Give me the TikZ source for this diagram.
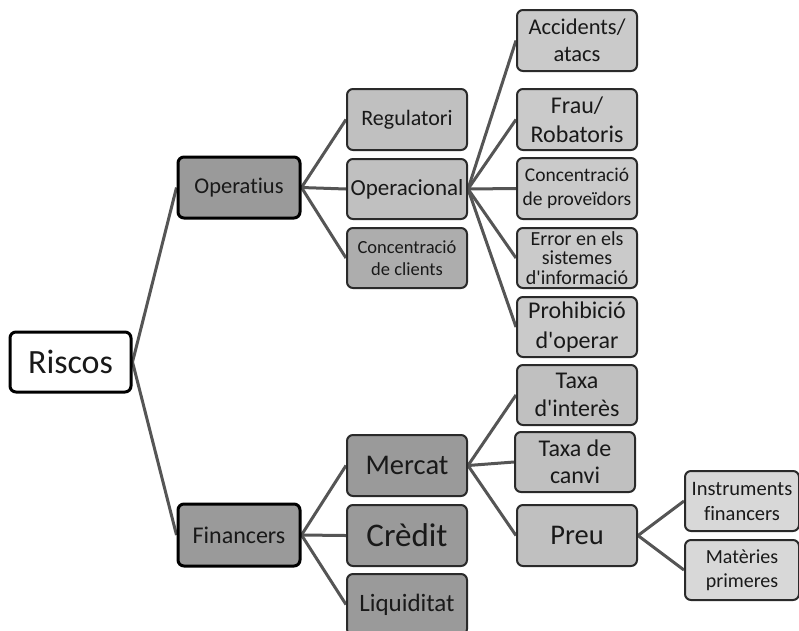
\documentclass[tikz,border=0pt]{standalone}
\usepackage{fontspec}
\setmainfont{Carlito}[Ligatures={NoCommon}]
\usetikzlibrary{backgrounds}
\newdimen\fbskip
\newcommand{\fsz}[1]{\fbskip=#1pt \fbskip=1.22\fbskip \fontsize{#1}{\fbskip}\selectfont}
\newcommand{\ap}{\textquotesingle}
\definecolor{lvA}{HTML}{9A9A9A}
\definecolor{lvB}{HTML}{C0C0C0}
\definecolor{lvBd}{HTML}{ADADAD}
\definecolor{lvC}{HTML}{CACACA}
\definecolor{lvD}{HTML}{D8D8D8}
\definecolor{edge}{HTML}{555555}
\definecolor{bord}{HTML}{2A2A2A}
\begin{document}
\begin{tikzpicture}[x=1pt,y=1pt,
  box/.style={draw=bord, line width=2pt, rounded corners=6pt, inner sep=0pt, align=center, text=black!90},
  topbox/.style={box, draw=black, line width=3pt},
  conn/.style={draw=edge, line width=3pt}]
\useasboundingbox (0,0) rectangle (799,-630);
\clip (0,0) rectangle (799,-630);
\node[topbox, fill=white, minimum width=121pt, minimum height=60pt, font=\fsz{34}] (ris) at (70.5,-362) {Riscos};
\node[topbox, fill=lvA, minimum width=122pt, minimum height=61pt, font=\fsz{22.5}] (ope) at (239,-187.5) {Operatius};
\node[topbox, fill=lvA, minimum width=122pt, minimum height=62pt, font=\fsz{24}] (fin) at (239,-535) {Financers};
% level 2
\node[box, fill=lvB, minimum width=120pt, minimum height=61pt, font=\fsz{22}] (reg) at (407,-119.5) {Regulatori};
\node[box, fill=lvB, minimum width=120pt, minimum height=60pt, font=\fsz{23}] (opc) at (407,-189) {Operacional};
\node[box, fill=lvBd, minimum width=120pt, minimum height=60pt, font=\fsz{18.5}] (ccl) at (407,-258) {Concentració\\[-1pt]de clients};
\node[box, fill=lvA, minimum width=120pt, minimum height=61pt, font=\fsz{28.5}] (mer) at (407,-465.5) {Mercat};
\node[box, fill=lvA, minimum width=120pt, minimum height=61pt, font=\fsz{33}] (cre) at (407,-535.5) {Crèdit};
\node[box, fill=lvA, minimum width=120pt, minimum height=61pt, font=\fsz{25}] (liq) at (407,-604.5) {Liquiditat};
% level 3
\node[box, fill=lvC, minimum width=120pt, minimum height=61pt, font=\fsz{22.5}] (acc) at (577,-40.5) {Accidents/\\atacs};
\node[box, fill=lvC, minimum width=120pt, minimum height=61pt, font=\fsz{24}] (fra) at (577,-119.5) {Frau/\\Robatoris};
\node[box, fill=lvC, minimum width=120pt, minimum height=61pt, font=\fsz{19.5}] (cpr) at (577,-188.5) {Concentració\\de proveïdors};
\node[box, fill=lvC, minimum width=120pt, minimum height=60pt, font={\fontsize{20}{19.5}\selectfont}] (err) at (577,-258) {Error en els\\sistemes\\d\ap informació};
\node[box, fill=lvC, minimum width=120pt, minimum height=60pt, font=\fsz{24}] (pro) at (577,-327) {Prohibició\\d\ap operar};
\node[box, fill=lvB, minimum width=120pt, minimum height=60pt, font=\fsz{24}] (tin) at (577,-395) {Taxa\\[-2pt]d\ap interès};
\node[box, fill=lvB, minimum width=120pt, minimum height=60pt, font=\fsz{24}] (tca) at (575,-462) {Taxa de\\[-2pt]canvi};
\node[box, fill=lvB, minimum width=120pt, minimum height=61pt, font=\fsz{28.5}] (pre) at (577,-535.5) {Preu};
% level 4
\node[box, fill=lvD, minimum width=114pt, minimum height=60pt, font=\fsz{20.5}] (ins) at (742,-501) {Instruments\\financers};
\node[box, fill=lvD, minimum width=114pt, minimum height=60pt, font=\fsz{20}] (mat) at (742,-570) {Matèries\\primeres};
% connectors
\begin{scope}[on background layer]
\fill[white] (0,0) rectangle (799,-630);
\draw[conn] (ris.east) -- (ope.west);
\draw[conn] (ris.east) -- (fin.west);
\foreach \t in {reg,opc,ccl} \draw[conn] (ope.east) -- (\t.west);
\foreach \t in {mer,cre,liq} \draw[conn] (fin.east) -- (\t.west);
\foreach \t in {acc,fra,cpr,err,pro} \draw[conn] (opc.east) -- (\t.west);
\foreach \t in {tin,tca,pre} \draw[conn] (mer.east) -- (\t.west);
\foreach \t in {ins,mat} \draw[conn] (pre.east) -- (\t.west);
\end{scope}
\end{tikzpicture}
\end{document}
